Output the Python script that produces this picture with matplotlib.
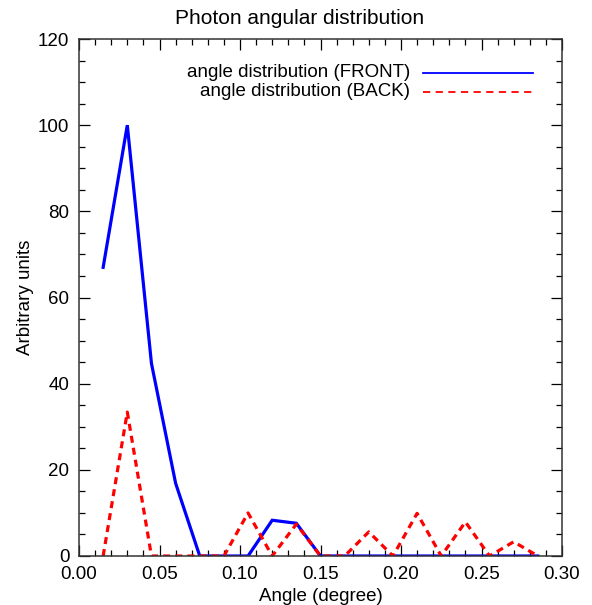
import matplotlib
matplotlib.use("Agg")
import matplotlib.pyplot as plt
from matplotlib.ticker import MultipleLocator
import numpy as np

angles = [0.015, 0.030, 0.045, 0.060, 0.075, 0.090, 0.105, 0.120, 0.135, 0.150,
          0.165, 0.180, 0.195, 0.210, 0.225, 0.240, 0.255, 0.270, 0.285]
front = [67.0, 100.0, 44.7, 16.9, 0, 0, 0, 8.3, 7.6, 0,
         0, 0, 0, 0, 0, 0, 0, 0, 0]
back = [0, 33.4, 0, 0, 0, 0, 10.0, 0, 7.4, 0,
        0, 5.6, 0, 9.9, 0, 7.9, 0, 3.3, 0]
xticks = [0.00, 0.05, 0.10, 0.15, 0.20, 0.25, 0.30]
yticks = [0, 20, 40, 60, 80, 100, 120]
label_front = "angle distribution (FRONT)"
label_back = "angle distribution (BACK)"

plt.rcParams['font.family'] = ['Liberation Sans', 'DejaVu Sans']

W, H = 592, 605
fig = plt.figure(figsize=(W / 100, H / 100), dpi=100)
L, R, T, B = 79, 562, 39, 556
ax = fig.add_axes([L / W, 1 - B / H, (R - L) / W, (B - T) / H])

ax.plot(angles, front, color='#0000ff', lw=2.3, solid_joinstyle='miter')
ax.plot(angles, back, color='#ff0000', lw=2.3, dashes=(2.2, 1.6))

ax.set_xlim(0, 0.30)
ax.set_ylim(0, 120)
ax.set_xticks(xticks)
ax.set_xticklabels([f"{v:.2f}" for v in xticks])
ax.set_yticks(yticks)
ax.set_yticklabels([str(v) for v in yticks])
ax.xaxis.set_minor_locator(MultipleLocator(0.01))
ax.yaxis.set_minor_locator(MultipleLocator(5))
ax.tick_params(which='both', direction='in', top=True, right=True,
               labelsize=13.5, width=0.9, colors='black')
ax.tick_params(which='major', length=8, pad=7)
ax.tick_params(which='minor', length=4.5)
for s in ax.spines.values():
    s.set_linewidth(1.1)
    s.set_color('#333333')

fig.text(300 / W, 1 - 18 / H, "Photon angular distribution", fontsize=15,
         ha='center', va='center')
ax.set_xlabel("Angle (degree)", fontsize=13.5, labelpad=4)
ax.set_ylabel("Arbitrary units", fontsize=13.5, labelpad=3)

# legend (manual, IDL style)
x_txt, x0, x1 = 0.685, 0.712, 0.940
ys = [0.935, 0.898]
ax.text(x_txt, ys[0], label_front, transform=ax.transAxes, ha='right', va='center', fontsize=13.5)
ax.text(x_txt, ys[1], label_back, transform=ax.transAxes, ha='right', va='center', fontsize=13.5)
ax.plot([x0, x1], [ys[0], ys[0]], transform=ax.transAxes, color='#0000ff', lw=1.3)
ax.plot([x0, x1], [ys[1], ys[1]], transform=ax.transAxes, color='#ff0000', lw=1.3, dashes=(4, 3))

fig.savefig("out.png", dpi=100)
